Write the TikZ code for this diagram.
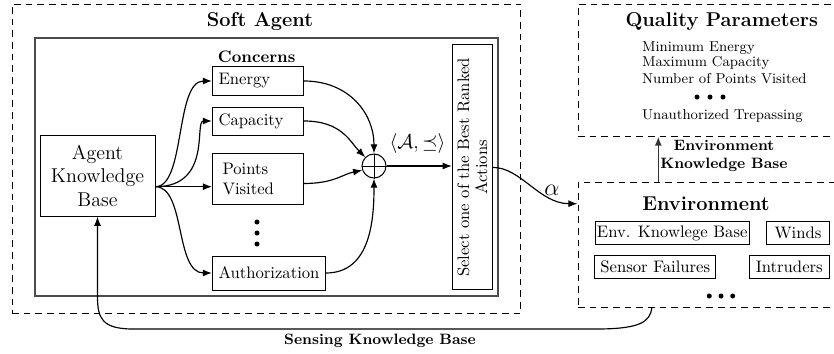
\documentclass[tikz,border=0pt]{standalone}
\usetikzlibrary{arrows.meta,calc}
\begin{document}
\begin{tikzpicture}[x=0.6pt,y=-0.6pt,
  >={Latex[length=5.5pt,width=4.2pt]},
  conn/.style={line width=0.7pt},
  dashbox/.style={draw, line width=0.6pt, dash pattern=on 4pt off 3pt},
  cbox/.style={draw, line width=0.6pt, anchor=west, align=left, inner xsep=3.6pt, inner ysep=0pt},
  ebox/.style={draw, line width=0.6pt, inner xsep=1pt, inner ysep=0pt, minimum height=13.6pt},
  bigdot/.style={circle, fill, inner sep=0pt, minimum size=3pt},
  qitem/.style={anchor=base west, font=\fontsize{8.6}{10}\selectfont, inner sep=0pt}]

\useasboundingbox (0,0) rectangle (834,354);
\clip (0,0) rectangle (834,354);

% ---------- Soft Agent ----------
\node[dashbox, minimum width=305.4pt, minimum height=185.4pt] (soft) at (266.5,158.5) {};
\node[draw=black!70, line width=1.1pt, minimum width=277.8pt, minimum height=154.8pt] (inner) at (266.5,167) {};
\node[anchor=base, font=\large\bfseries] (softt) at (260,26.7) {Soft Agent};
\node[anchor=base, font=\bfseries] (conc) at (256.7,62.3) {Concerns};

\node[draw, line width=0.6pt, font=\large, align=center, minimum width=69pt, minimum height=48.6pt, inner sep=0pt] (kb) at (97.5,175.7) {Agent\\Knowledge\\Base};

\node[cbox, text width=47.4pt, minimum height=17.1pt] (en) at (212,81) {Energy};
\node[cbox, text width=47.4pt, minimum height=16.8pt] (ca) at (212,121) {Capacity};
\node[cbox, text width=42.6pt, inner xsep=6pt, minimum height=30.6pt] (pv) at (212,178.5) {Points\\Visited};
\node[cbox, minimum height=20.4pt] (au) at (212,273) {Authorization};

\node[bigdot] (cd1) at (257,222) {};
\node[bigdot] (cd2) at (257,233) {};
\node[bigdot] (cd3) at (257,244) {};

\node[circle, draw, line width=0.6pt, minimum size=14.4pt, inner sep=0pt] (op) at (374,166) {};
\draw[line width=0.6pt] (op.north) -- (op.south) (op.west) -- (op.east);

\node[draw, line width=0.6pt, rotate=90, minimum width=147pt, minimum height=24pt, align=center, inner sep=1pt, font=\fontsize{10}{10.8}\selectfont] (sel) at (472.3,167.4) {Select one of the Best Ranked\\Actions};

\coordinate (kbo) at ($(kb.east)+(0,11)$);
\draw[conn,->] (kbo) .. controls +(30,0) and +(-37,0) .. (en.west);
\draw[conn,->] (kbo) .. controls +(57,0) and +(-18,0) .. (ca.west);
\draw[conn,->] (kbo) -- (kbo -| pv.west);
\draw[conn,->] (kbo) .. controls +(30,0) and +(-37,0) .. (au.west);

\draw[conn,->] (en.east) .. controls +(45,0) and +(0,-40) .. (op.north);
\draw[conn,->] (ca.east) .. controls +(38,0) and +(-15,-15) .. (op.north west);
\draw[conn,->] ($(pv.east)+(0,5)$) .. controls +(30,0) and +(-20,4) .. (op.200);
\draw[conn,->] (au.east) .. controls +(45,0) and +(0,40) .. (op.south);

\draw[conn,->] (op.east) -- (op.east -| sel.north);
\node[anchor=base, font=\large] (pref) at (417.5,148.3) {$\langle\mathcal{A},\preceq\rangle$};

% ---------- Quality Parameters ----------
\node[dashbox, minimum width=169.2pt, minimum height=79.2pt] (qp) at (719,70) {};
\node[anchor=base, font=\large\bfseries] (qpt) at (721.7,26.7) {Quality Parameters};
\node[qitem] (q1) at (641.7,51) {Minimum Energy};
\node[qitem] (q2) at (641.7,66.8) {Maximum Capacity};
\node[qitem] (q3) at (641.7,83.3) {Number of Points Visited};
\node[bigdot] (qd1) at (697,97) {};
\node[bigdot] (qd2) at (710,97) {};
\node[bigdot] (qd3) at (723,97) {};
\node[qitem] (q4) at (641.7,119) {Unauthorized Trepassing};

% ---------- Environment ----------
\node[dashbox, minimum width=169.2pt, minimum height=75pt] (env) at (719,244.5) {};
\node[anchor=base, font=\large\bfseries] (envt) at (706,210) {Environment};
\node[ebox, minimum width=92.4pt] (ekb) at (672.2,233) {Env. Knowlege Base};
\node[ebox, minimum width=37.6pt] (wi) at (798,233) {Winds};
\node[ebox, minimum width=72.4pt, minimum height=14pt] (sf) at (655.3,267.3) {Sensor Failures};
\node[ebox, minimum width=48pt, minimum height=14pt] (intr) at (789.3,267.3) {Intruders};
\node[bigdot] (ed1) at (709.3,296) {};
\node[bigdot] (ed2) at (721,296) {};
\node[bigdot] (ed3) at (732.7,296) {};

% ---------- connectors between blocks ----------
\coordinate (ain) at ($(env.north west)!0.176!(env.south west)$);
\draw[conn,->] (sel.south) .. controls +(28,0) and +(-38,0) .. (ain);
\node[font=\Large] (alpha) at (552,190) {$\alpha$};

\coordinate (eup) at (658.3,0);
\draw[line width=0.9pt, draw=black!80, ->] (env.north -| eup) -- (qp.south -| eup);
\node[font=\small\bfseries, align=center, inner sep=0pt] (envkb) at (724,156) {Environment\\Knowledge Base};

\coordinate (sdown) at (652,0);
\coordinate (s1) at (600,329);
\coordinate (s2) at (133,329);
\coordinate (s3) at (97.5,297);
\draw[conn,->] (env.south -| sdown) .. controls (650,322) and (640,328.5) .. (s1) -- (s2) .. controls (102,329) and (97.5,318) .. (s3) -- (kb.south);
\node[anchor=base, font=\small\bfseries] (skb) at (380,344.3) {Sensing Knowledge Base};

\end{tikzpicture}
\end{document}
